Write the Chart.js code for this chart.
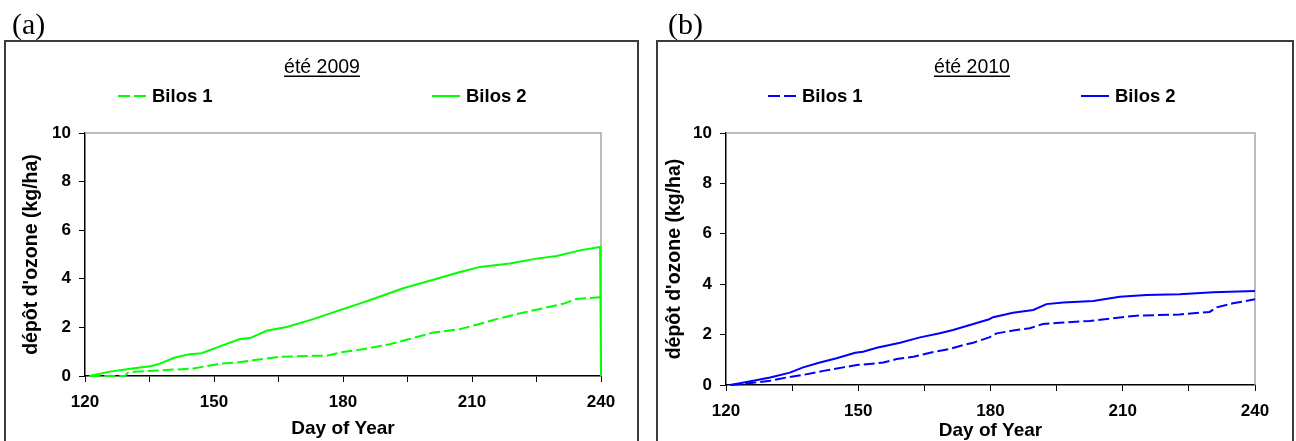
<!DOCTYPE html>
<html>
<head>
<meta charset="utf-8">
<script src="https://cdn.jsdelivr.net/npm/chart.js@4.4.1/dist/chart.umd.min.js"></script>
<style>
  html, body { margin: 0; padding: 0; background: #fff; }
  body { width: 1296px; height: 441px; position: relative; overflow: hidden; }
  canvas { position: absolute; top: 0; }
  #chartA { left: 0; }
  #chartB { left: 648px; }
</style>
</head>
<body>
<canvas id="chartA" width="648" height="441"></canvas>
<canvas id="chartB" width="648" height="441"></canvas>
<script>
// ---- data ----
const seriesLabels = ["Bilos 1", "Bilos 2"];
const xTitle = "Day of Year";
const yTitle = "dépôt d'ozone (kg/ha)";

// (a) été 2009
const days2009Bilos1 = [121, 129.3, 130, 132, 137.4, 145.2, 148.3, 151.4, 155.3, 159.1, 165.3, 173.1, 176.2, 180, 184.5, 190.9, 194.8, 201, 207.2, 211.1, 215.7, 220.4, 225.8, 231.2, 234.3, 239.8];
const ozone2009Bilos1 = [0, 0, 0.14, 0.18, 0.23, 0.31, 0.41, 0.51, 0.55, 0.65, 0.79, 0.83, 0.83, 0.99, 1.10, 1.31, 1.49, 1.79, 1.93, 2.11, 2.34, 2.55, 2.76, 2.97, 3.17, 3.24];
const days2009Bilos2 = [121, 125.8, 129.7, 135.5, 137.4, 140.9, 144.4, 147.1, 150.6, 156, 158.4, 162.2, 166.9, 173.1, 177.7, 180.8, 184, 187, 194, 201.8, 207.2, 211.9, 218.8, 225, 229.7, 235.1, 239.8, 240];
const ozone2009Bilos2 = [0, 0.18, 0.28, 0.41, 0.51, 0.76, 0.90, 0.94, 1.17, 1.52, 1.56, 1.86, 2.02, 2.34, 2.62, 2.80, 2.99, 3.17, 3.61, 4.00, 4.28, 4.49, 4.63, 4.83, 4.94, 5.17, 5.31, 0];

// (b) été 2010
const days2010Bilos1 = [121, 126.2, 130, 133.8, 137.5, 142.1, 146.6, 149.6, 155.7, 158.7, 162.5, 166.3, 170.8, 173.1, 176.1, 179.7, 181.4, 185.1, 188.9, 191.9, 195.7, 202.5, 207.8, 213.1, 222.9, 229.7, 231.3, 235, 240];
const ozone2010Bilos1 = [0, 0.09, 0.17, 0.30, 0.40, 0.56, 0.70, 0.79, 0.89, 1.03, 1.12, 1.28, 1.43, 1.55, 1.68, 1.89, 2.05, 2.16, 2.25, 2.42, 2.47, 2.54, 2.65, 2.75, 2.80, 2.90, 3.08, 3.24, 3.40];
const days2010Bilos2 = [121, 126.2, 130, 134.5, 137.5, 141.3, 145.1, 149.3, 151.1, 154.2, 159.5, 164, 168.5, 171.5, 176.1, 179.7, 180.6, 185.1, 189.7, 192.7, 196.5, 203.3, 209.3, 215.4, 222.9, 230.5, 240];
const ozone2010Bilos2 = [0, 0.17, 0.30, 0.49, 0.70, 0.89, 1.06, 1.28, 1.32, 1.48, 1.68, 1.89, 2.05, 2.18, 2.42, 2.61, 2.69, 2.87, 2.98, 3.21, 3.27, 3.33, 3.50, 3.57, 3.60, 3.68, 3.73];

const xMin = 120, xMax = 240, xStep = 15, xLabelStep = 30;
const yMin = 0, yMax = 10, yStep = 2;

const FONT = "'Liberation Sans', Arial, sans-serif";

const toPoints = (xs, ys) => xs.map((x, i) => ({ x: x, y: ys[i] }));

// frame, panel letter, underlined title and legend
const panelDecor = {
  id: "panelDecor",
  beforeDatasetsDraw(chart, args, opts) {
    const { ctx, chartArea: a } = chart;
    ctx.save();
    ctx.strokeStyle = "#a6a6a6";
    ctx.lineWidth = 1.5;
    ctx.beginPath();
    ctx.moveTo(a.left, a.top);
    ctx.lineTo(a.right, a.top);
    ctx.lineTo(a.right, a.bottom);
    ctx.stroke();
    ctx.restore();
  },
  afterDraw(chart, args, opts) {
    const ctx = chart.ctx;
    ctx.save();

    // outer frame
    ctx.strokeStyle = "#3c3c3c";
    ctx.lineWidth = 2;
    ctx.strokeRect(opts.frameLeft, 41, opts.frameRight - opts.frameLeft, 420);

    // panel letter
    ctx.fillStyle = "#000";
    ctx.font = "30px 'Liberation Serif', 'Times New Roman', serif";
    ctx.textAlign = "left";
    ctx.textBaseline = "alphabetic";
    ctx.fillText(opts.letter, opts.letterX, 34);

    // underlined title
    ctx.font = "19.5px " + FONT;
    ctx.textAlign = "center";
    ctx.fillText(opts.title, opts.titleX, 73);
    const tw = ctx.measureText(opts.title).width;
    ctx.fillRect(opts.titleX - tw / 2, 75.5, tw, 1.5);

    // legend
    ctx.font = "bold 18.5px " + FONT;
    ctx.textAlign = "left";
    ctx.textBaseline = "middle";
    chart.data.datasets.forEach((ds, i) => {
      const lx = opts.legendX[i];
      ctx.strokeStyle = ds.borderColor;
      ctx.lineWidth = 2;
      ctx.setLineDash(ds.borderDash ? [12, 4] : []);
      ctx.beginPath();
      ctx.moveTo(lx, 96);
      ctx.lineTo(lx + 28, 96);
      ctx.stroke();
      ctx.setLineDash([]);
      ctx.fillStyle = "#000";
      ctx.fillText(ds.label, lx + 34, 97);
    });
    ctx.restore();
  }
};

function makeChart(id, color, b1x, b1y, b2x, b2y, geo) {
  return new Chart(document.getElementById(id), {
    type: "line",
    data: {
      datasets: [
        {
          label: seriesLabels[0],
          data: toPoints(b1x, b1y),
          borderColor: color,
          borderWidth: 2,
          borderDash: [11, 4],
          pointRadius: 0,
          tension: 0,
          clip: false,
        },
        {
          label: seriesLabels[1],
          data: toPoints(b2x, b2y),
          borderColor: color,
          borderWidth: 2,
          pointRadius: 0,
          tension: 0,
          clip: false,
        },
      ],
    },
    options: {
      responsive: false,
      animation: false,
      devicePixelRatio: 1,
      layout: { padding: { left: 0, top: 133, right: geo.padRight, bottom: 0 } },
      plugins: {
        legend: { display: false },
        title: { display: false },
        tooltip: { enabled: false },
        panelDecor: geo.decor,
      },
      scales: {
        x: {
          type: "linear",
          min: xMin,
          max: xMax,
          afterFit: (s) => { s.height = geo.xHeight; },
          grid: { drawOnChartArea: false, drawTicks: true, tickLength: 6, color: "#000", tickWidth: 1 },
          border: { color: "#000", width: 1.5 },
          ticks: {
            stepSize: xStep,
            autoSkip: false,
            maxRotation: 0,
            padding: geo.xTickPad,
            color: "#000",
            font: { family: FONT, size: 17, weight: "bold" },
            callback: (v) => (v % xLabelStep === 0 ? String(v) : ""),
          },
          title: {
            display: true,
            text: xTitle,
            color: "#000",
            font: { family: FONT, size: 19, weight: "bold", lineHeight: 1.2 },
            padding: { top: 0, bottom: geo.xTitlePad },
          },
        },
        y: {
          min: yMin,
          max: yMax,
          afterFit: (s) => { s.width = geo.yWidth; },
          grid: { drawOnChartArea: false, drawTicks: true, tickLength: 6, color: "#000", tickWidth: 1 },
          border: { color: "#000", width: 1.5 },
          ticks: {
            stepSize: yStep,
            padding: 8,
            color: "#000",
            font: { family: FONT, size: 17, weight: "bold" },
          },
          title: {
            display: true,
            text: yTitle,
            color: "#000",
            font: { family: FONT, size: 19.5, weight: "bold", lineHeight: 1.2 },
            padding: { top: geo.yTitlePad, bottom: 0 },
          },
        },
      },
    },
    plugins: [panelDecor],
  });
}

makeChart("chartA", "#00ff00", days2009Bilos1, ozone2009Bilos1, days2009Bilos2, ozone2009Bilos2, {
  padRight: 47, yWidth: 85, xHeight: 65, xTickPad: 10, xTitlePad: 1, yTitlePad: 20,
  decor: { frameLeft: 5, frameRight: 638, letter: "(a)", letterX: 12, title: "été 2009", titleX: 322, legendX: [118, 432] },
});

makeChart("chartB", "#0000ff", days2010Bilos1, ozone2010Bilos1, days2010Bilos2, ozone2010Bilos2, {
  padRight: 41, yWidth: 78, xHeight: 56, xTickPad: 10, xTitlePad: -1, yTitlePad: 15,
  decor: { frameLeft: 9, frameRight: 645, letter: "(b)", letterX: 20, title: "été 2010", titleX: 324, legendX: [120, 433] },
});
</script>
</body>
</html>
